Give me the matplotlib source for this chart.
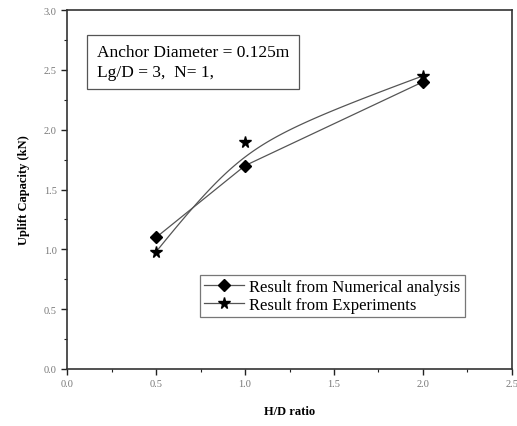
import numpy as np
import matplotlib
matplotlib.use("Agg")
from matplotlib import pyplot as plt
from matplotlib.ticker import MultipleLocator

# data
hd_ratio = [0.5, 1.0, 2.0]
numerical = [1.10, 1.70, 2.40]
experiments = [0.98, 1.90, 2.45]


def bspline(xs, ys, w = 2.5, n = 120):
	"""rational quadratic Bezier through end points, pulled to the middle one"""
	t = np.linspace(0, 1, n)
	b0 = (1 - t) ** 2
	b1 = 2 * w * t * (1 - t)
	b2 = t ** 2
	s = b0 + b1 + b2
	bx = (b0 * xs[0] + b1 * xs[1] + b2 * xs[2]) / s
	by = (b0 * ys[0] + b1 * ys[1] + b2 * ys[2]) / s
	return bx, by


plt.rcParams["font.family"] = ["Liberation Serif", "DejaVu Serif"]

fig = plt.figure(figsize = (5.17, 4.27), dpi = 100)
ax = fig.add_axes([0.130, 0.1335, 0.860, 0.8405])

col = "#222222"
ax.plot(hd_ratio, numerical, color = "#555555", lw = 0.9, zorder = 2)
ax.plot(hd_ratio, numerical, ls = "none", marker = "D", ms = 6, color = "black", zorder = 3)
ln1, = ax.plot([], [], color = "#555555", lw = 0.9, marker = "D", ms = 6,
	mfc = "black", mec = "black", label = "Result from Numerical analysis")

cx, cy = bspline(hd_ratio, experiments)
ax.plot(cx, cy, color = "#555555", lw = 0.9, zorder = 2)
ax.plot(hd_ratio, experiments, ls = "none", marker = "*", ms = 8.5, color = "black", zorder = 3)
ln2, = ax.plot([], [], color = "#555555", lw = 0.9, marker = "*", ms = 8.5,
	mfc = "black", mec = "black", label = "Result from Experiments")

ax.set_xlim(0, 2.5)
ax.set_ylim(0, 3.0)
ax.xaxis.set_major_locator(MultipleLocator(0.5))
ax.xaxis.set_minor_locator(MultipleLocator(0.25))
ax.yaxis.set_major_locator(MultipleLocator(0.5))
ax.yaxis.set_minor_locator(MultipleLocator(0.25))
ax.tick_params(which = "major", direction = "out", length = 4, width = 1, colors = col,
	labelsize = 7.5, labelcolor = "#777777")
ax.tick_params(which = "minor", direction = "out", length = 2, width = 0.8, colors = col)
for s in ax.spines.values():
	s.set_linewidth(1.2)
	s.set_color("#333333")

ax.set_xlabel("H/D ratio", fontsize = 9, fontweight = "bold", labelpad = 12)
ax.set_ylabel("Uplift Capacity (kN)", fontsize = 9, fontweight = "bold", labelpad = 10)

ax.text(0.067, 0.905, "Anchor Diameter = 0.125m\nLg/D = 3,  N= 1,", transform = ax.transAxes,
	fontsize = 12.5, va = "top", ha = "left", linespacing = 1.3,
	bbox = dict(boxstyle = "square,pad=0.55", fc = "white", ec = "#555555", lw = 0.9))

leg = ax.legend(handles = [ln1, ln2], loc = "upper left", bbox_to_anchor = (0.299, 0.262),
	fontsize = 12, frameon = True, fancybox = False, handlelength = 2.4,
	handletextpad = 0.3, borderpad = 0.25, labelspacing = 0.12, borderaxespad = 0)
leg.get_frame().set_edgecolor("#555555")
leg.get_frame().set_linewidth(0.9)

plt.savefig("out.png", dpi = 100)
plt.close()
